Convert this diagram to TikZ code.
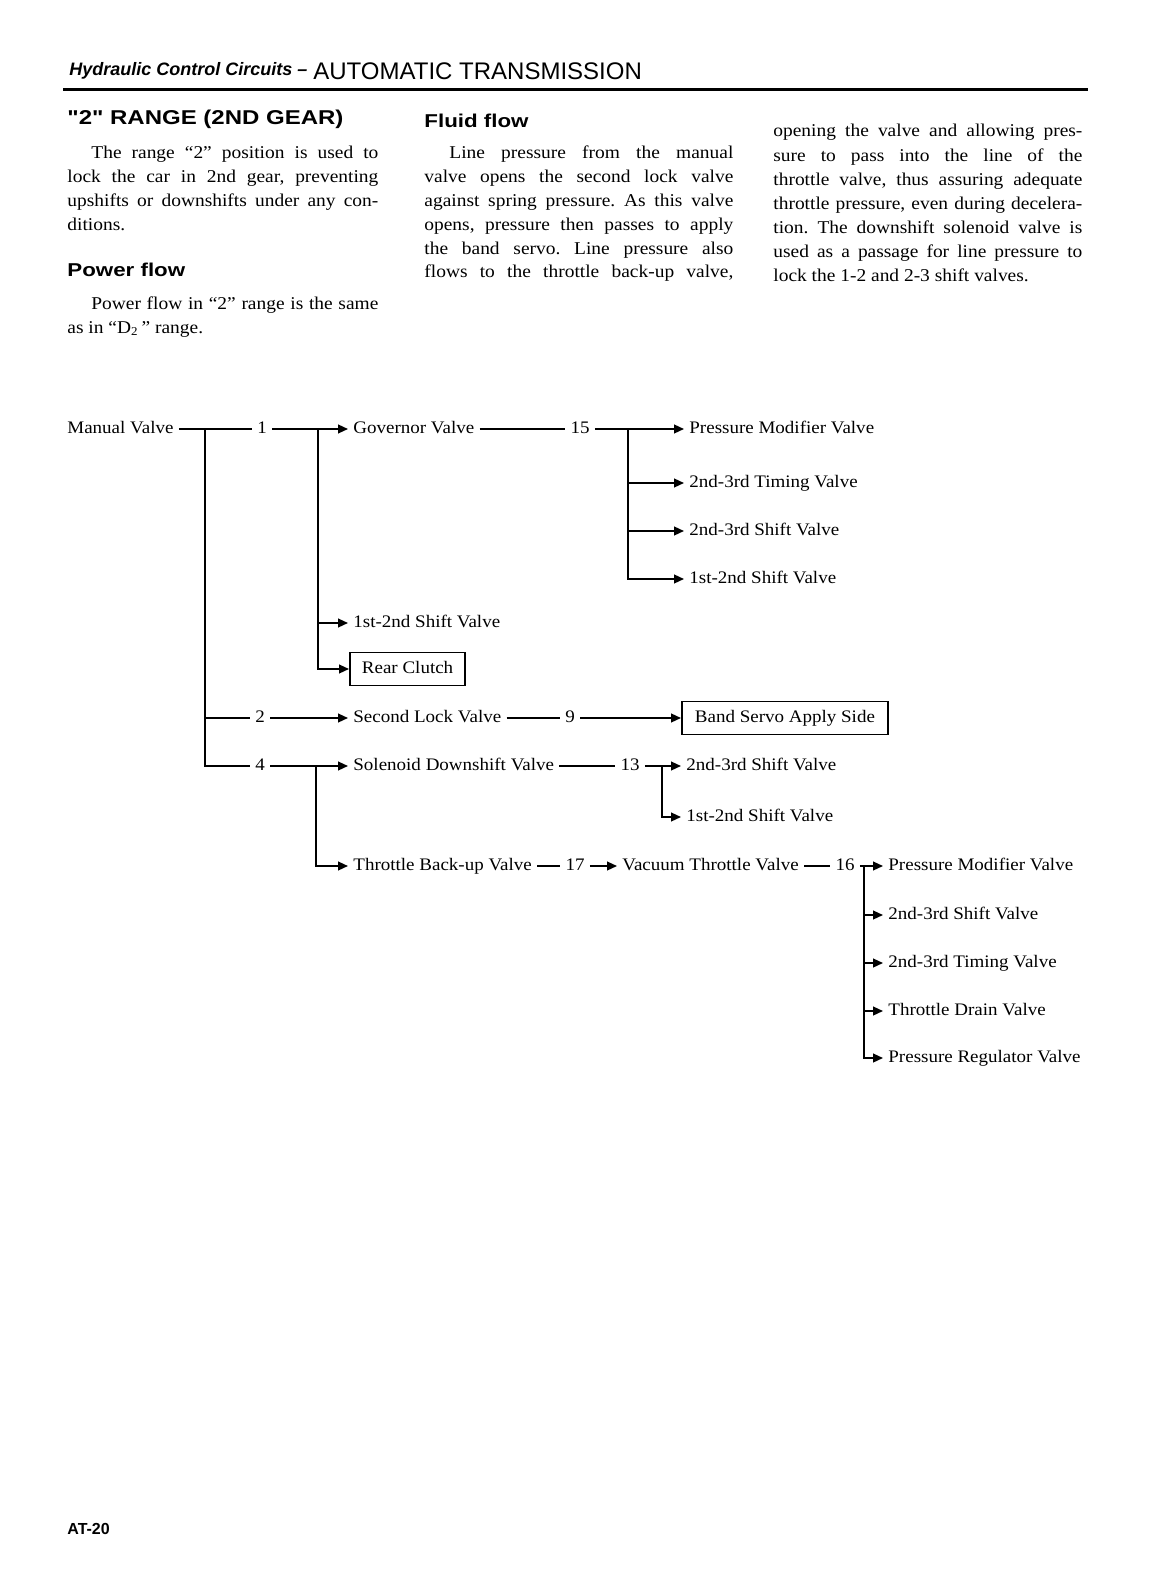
\documentclass[tikz,border=0pt]{standalone}
\usepackage{fontspec}
\setmainfont{Liberation Serif}[FakeStretch=1.08]
\newfontfamily\hdfont{Liberation Sans}[FakeStretch=1.2]
\newfontfamily\hsans{Liberation Sans}
\usetikzlibrary{arrows.meta}
\newcommand\jline[2]{\makebox[#1][s]{#2}}
\begin{document}
\frenchspacing
\begin{tikzpicture}[x=0.5pt,y=-0.5pt,
  bodytxt/.style={font=\fontsize{9}{11}\selectfont, inner sep=0pt, anchor=base west},
  headtxt/.style={font=\hdfont\bfseries\fontsize{9.3}{11}\selectfont, inner sep=0pt, anchor=base west},
  lbl/.style={font=\fontsize{8.8}{10}\selectfont, inner xsep=2.5pt, inner ysep=0pt, text height=6.2pt, text depth=1.8pt, anchor=west},
  num/.style={lbl, anchor=center},
  valvebox/.style={lbl, draw, line width=0.9pt, inner xsep=6pt, minimum height=16.5pt},
  ln/.style={line width=0.9pt},
  arr/.style={ln, -{Triangle[length=5pt,width=4.4pt]}},
]
\useasboundingbox (0,0) rectangle (1166,1582);
\fill[white] (0,0) rectangle (1166,1582);

% ---------- page header ----------
\node[inner sep=0pt, anchor=base west, font=\hsans\bfseries\itshape\fontsize{9}{11}\selectfont] (hdl) at (69,76) {Hydraulic Control Circuits –};
\node[inner sep=0pt, anchor=base west, font=\hsans\fontsize{12}{14}\selectfont] (hdr) at (313,80) {AUTOMATIC TRANSMISSION};
\draw[line width=1.5pt] (63,90) -- (1088,90);

% ---------- column 1 ----------
\node[headtxt, font=\hdfont\bfseries\fontsize{10}{12}\selectfont] (h1) at (67,124.5) {"2" RANGE (2ND GEAR)};
\node[bodytxt] (c1a) at (91,158.5) {\jline{143.5pt}{The range “2” position is used to}};
\node[bodytxt] (c1b) at (67,182.5) {\jline{155.5pt}{lock the car in 2nd gear, preventing}};
\node[bodytxt] (c1c) at (67,206.5) {\jline{155.5pt}{upshifts or downshifts under any con-}};
\node[bodytxt] (c1d) at (67,230.5) {ditions.};
\node[headtxt] (h2) at (67,277) {Power flow};
\node[bodytxt] (c1e) at (91,310) {\jline{143.5pt}{Power flow in “2” range is the same}};
\node[bodytxt] (c1f) at (67,334) {as in “D\textsubscript{2}\,” range.};

% ---------- column 2 ----------
\node[headtxt] (h3) at (424,127.5) {Fluid flow};
\node[bodytxt] (c2a) at (449,158.5) {\jline{142pt}{Line pressure from the manual}};
\node[bodytxt] (c2b) at (424,182.5) {\jline{154.5pt}{valve opens the second lock valve}};
\node[bodytxt] (c2c) at (424,206.5) {\jline{154.5pt}{against spring pressure. As this valve}};
\node[bodytxt] (c2d) at (424,230.5) {\jline{154.5pt}{opens, pressure then passes to apply}};
\node[bodytxt] (c2e) at (424,254.5) {\jline{154.5pt}{the band servo. Line pressure also}};
\node[bodytxt] (c2f) at (424,278) {\jline{154.5pt}{flows to the throttle back-up valve,}};

% ---------- column 3 ----------
\node[bodytxt] (c3a) at (773,137) {\jline{154.5pt}{opening the valve and allowing pres-}};
\node[bodytxt] (c3b) at (773,161.5) {\jline{154.5pt}{sure to pass into the line of the}};
\node[bodytxt] (c3c) at (773,185.5) {\jline{154.5pt}{throttle valve, thus assuring adequate}};
\node[bodytxt] (c3d) at (773,210) {\jline{154.5pt}{throttle pressure, even during decelera-}};
\node[bodytxt] (c3e) at (773,234) {\jline{154.5pt}{tion. The downshift solenoid valve is}};
\node[bodytxt] (c3f) at (773,258) {\jline{154.5pt}{used as a passage for line pressure to}};
\node[bodytxt] (c3g) at (773,282) {lock the 1-2 and 2-3 shift valves.};

% ---------- diagram nodes ----------
\node[lbl] (mv) at (62,429) {Manual Valve};
\node[num] (n1) at (262,429) {1};
\node[lbl] (gov) at (348,429) {Governor Valve};
\node[num] (n15) at (580,429) {15};
\node[lbl] (pmv1) at (684,429) {Pressure Modifier Valve};
\node[lbl] (tim1) at (684,483) {2nd-3rd Timing Valve};
\node[lbl] (sh23a) at (684,531) {2nd-3rd Shift Valve};
\node[lbl] (sh12a) at (684,579) {1st-2nd Shift Valve};
\node[lbl] (sh12b) at (348,623) {1st-2nd Shift Valve};
\node[valvebox] (rc) at (349,669) {Rear Clutch};

\node[num] (n2) at (260,718) {2};
\node[lbl] (slv) at (348,718) {Second Lock Valve};
\node[num] (n9) at (570,718) {9};
\node[valvebox, inner xsep=6.5pt] (bsa) at (681,718) {Band Servo Apply Side};

\node[num] (n4) at (260,766) {4};
\node[lbl] (sdv) at (348,766) {Solenoid Downshift Valve};
\node[num] (n13) at (630,766) {13};
\node[lbl] (sh23b) at (681,766) {2nd-3rd Shift Valve};
\node[lbl] (sh12c) at (681,817) {1st-2nd Shift Valve};

\node[lbl] (tbv) at (348,866) {Throttle Back-up Valve};
\node[num] (n17) at (575,866) {17};
\node[lbl] (vtv) at (617,866) {Vacuum Throttle Valve};
\node[num] (n16) at (845,866) {16};
\node[lbl] (pmv2) at (883,866) {Pressure Modifier Valve};
\node[lbl] (sh23c) at (883,915) {2nd-3rd Shift Valve};
\node[lbl] (tim2) at (883,963) {2nd-3rd Timing Valve};
\node[lbl] (tdv) at (883,1011) {Throttle Drain Valve};
\node[lbl] (prv) at (883,1058) {Pressure Regulator Valve};

% junction points
\coordinate (jm) at (205,429);
\coordinate (j1) at (318,429);
\coordinate (j15) at (628,429);
\coordinate (jt) at (316,766);
\coordinate (j13) at (662,766);
\coordinate (j16) at (864,866);

% ---------- connectors ----------
\draw[ln] (mv.east) -- (n1.west);
\draw[arr] (n1.east) -- (gov.west);
\draw[ln] (gov.east) -- (n15.west);
\draw[arr] (n15.east) -- (pmv1.west);
\draw[arr] (j15) |- (tim1.west);
\draw[arr] (j15) |- (sh23a.west);
\draw[arr] (j15) |- (sh12a.west);
\draw[arr] (j1) |- (sh12b.west);
\draw[arr] (j1) |- (rc.west);

\draw[ln] (jm) |- (n2.west);
\draw[ln] (jm) |- (n4.west);
\draw[arr] (n2.east) -- (slv.west);
\draw[ln] (slv.east) -- (n9.west);
\draw[arr] (n9.east) -- (bsa.west);

\draw[arr] (n4.east) -- (sdv.west);
\draw[ln] (sdv.east) -- (n13.west);
\draw[arr] (n13.east) -- (sh23b.west);
\draw[arr] (j13) |- (sh12c.west);
\draw[arr] (jt) |- (tbv.west);

\draw[ln] (tbv.east) -- (n17.west);
\draw[arr] (n17.east) -- (vtv.west);
\draw[ln] (vtv.east) -- (n16.west);
\draw[arr] (n16.east) -- (pmv2.west);
\draw[arr] (j16) |- (sh23c.west);
\draw[arr] (j16) |- (tim2.west);
\draw[arr] (j16) |- (tdv.west);
\draw[arr] (j16) |- (prv.west);

% ---------- page number ----------
\node[inner sep=0pt, anchor=base west, font=\hsans\bfseries\fontsize{8}{10}\selectfont] (pg) at (67,1534) {AT-20};
\end{tikzpicture}
\end{document}
